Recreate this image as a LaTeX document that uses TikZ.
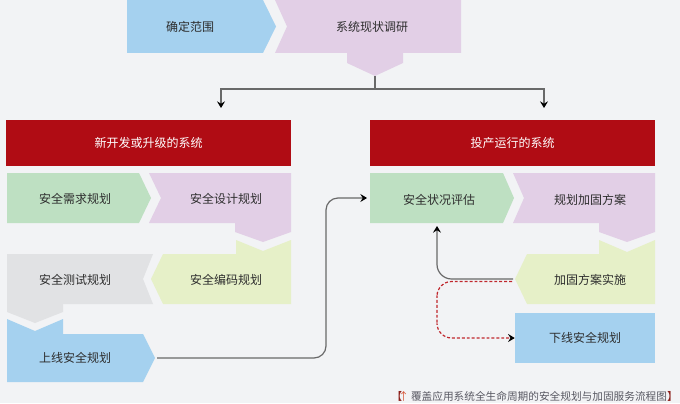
\documentclass[tikz,border=0pt]{standalone}
\usepackage{fontspec}
\setmainfont{Noto Sans CJK SC}
\definecolor{bgtone}{RGB}{242,243,245}
\definecolor{skyblue}{RGB}{165,209,239}
\definecolor{softlilac}{RGB}{226,207,230}
\definecolor{softgreen}{RGB}{190,224,194}
\definecolor{paleolive}{RGB}{230,240,200}
\definecolor{softgrey}{RGB}{225,226,228}
\definecolor{headred}{RGB}{176,12,20}
\definecolor{linegrey}{RGB}{105,105,105}
\definecolor{dotred}{RGB}{192,39,45}
\definecolor{textdark}{RGB}{45,45,45}
\definecolor{capgrey}{RGB}{88,88,98}
\definecolor{bracketred}{RGB}{140,30,25}
\definecolor{uparrow}{RGB}{215,85,55}
\usetikzlibrary{arrows.meta,positioning,calc}

\tikzset{
  lbl/.style={font=\fontsize{9}{11}\selectfont, text=textdark, inner sep=0pt},
  hdr/.style={fill=headred, text=white, font=\fontsize{9}{11}\selectfont,
              minimum width=213.75pt, minimum height=34.5pt, inner sep=0pt},
  tipend/.style={-{Stealth[color=black, length=5pt, width=6pt, inset=1.8pt]}},
  flow/.style={draw=linegrey, line width=0.9pt, tipend},
  dotflow/.style={draw=dotred, line width=0.9pt, dash pattern=on 2.2pt off 1.5pt, tipend}
}

\begin{document}
\begin{tikzpicture}[x=0.75pt, y=-0.75pt]
  \useasboundingbox (0,0) rectangle (680,403);
  \fill[bgtone] (0,0) rectangle (680,403);

  % top row
  \fill[skyblue] (127,0) -- (263,0) -- (276,26.5) -- (263,53) -- (127,53) -- cycle;
  \fill[softlilac] (275,0) -- (461,0) -- (461,53) -- (403,53) -- (403,63) -- (375,76)
        -- (347,63) -- (347,53) -- (275,53) -- (287,26.5) -- cycle;
  \node[lbl] (scope) at (190,26.5) {确定范围};
  \node[lbl] (survey) at (372,26.5) {系统现状调研};
  \coordinate (surveytip) at (375,76);
  \coordinate (split) at (375,89);
  \coordinate (newin) at (221,108);
  \coordinate (oldin) at (544,108);

  % headers
  \node[hdr] (newsys) at (148.5,143) {新开发或升级的系统};
  \node[hdr] (runsys) at (512.5,143) {投产运行的系统};

  % left column
  \fill[softgreen] (7,173) -- (139,173) -- (151,198) -- (139,223) -- (7,223) -- cycle;
  \fill[softlilac] (149,173) -- (291,173) -- (291,232) -- (263,242) -- (235,232)
        -- (235,223) -- (149,223) -- (161,198) -- cycle;
  \fill[paleolive] (163,254) -- (236,254) -- (236,240) -- (263,251) -- (291,240)
        -- (291,304) -- (163,304) -- (151,279) -- cycle;
  \fill[softgrey] (7,254) -- (153,254) -- (143,279) -- (153,304) -- (63,304)
        -- (63,312) -- (35,323) -- (7,312) -- cycle;
  \fill[skyblue] (7,319) -- (35,331) -- (63,319) -- (63,334) -- (143,334)
        -- (155,358) -- (143,382) -- (7,382) -- cycle;
  \node[lbl] (needs) at (75,199) {安全需求规划};
  \node[lbl] (design) at (226,199) {安全设计规划};
  \node[lbl] (coding) at (226,280) {安全编码规划};
  \node[lbl] (testing) at (75,280) {安全测试规划};
  \node[lbl] (golive) at (75,358) {上线安全规划};
  \coordinate (golivetip) at (157,358);
  \coordinate (bendup) at (326,280);

  % right column
  \fill[softgreen] (370,173) -- (503,173) -- (514,198) -- (503,223) -- (370,223) -- cycle;
  \fill[softlilac] (513,173) -- (655,173) -- (655,232) -- (627,242) -- (599,232)
        -- (599,223) -- (513,223) -- (524,198) -- cycle;
  \fill[paleolive] (527,254) -- (599,254) -- (599,240) -- (627,252) -- (655,240)
        -- (655,304) -- (527,304) -- (515,279) -- cycle;
  \node[fill=skyblue, minimum width=105pt, minimum height=37.5pt, inner sep=0pt,
        font=\fontsize{9}{11}\selectfont, text=textdark] (retire) at (585,338) {下线安全规划};
  \node[lbl] (assess) at (439,200) {安全状况评估};
  \node[lbl] (harden) at (590,200) {规划加固方案};
  \node[lbl] (apply) at (590,280) {加固方案实施};
  \coordinate (assessin) at (367,198);
  \coordinate (assessbot) at (437,226);
  \coordinate (applytip) at (513,279);
  \coordinate (applydot) at (512,281.5);
  \coordinate (benddown) at (437,310);

  % connectors
  \draw[draw=linegrey, line width=0.9pt] (surveytip) -- (split);
  \draw[flow] (split) -| (newin);
  \draw[flow] (split) -| (oldin);
  \draw[flow, rounded corners=9pt] (golivetip) -| (bendup) |- (assessin);
  \draw[flow, rounded corners=11pt] (applytip) -| (assessbot);
  \draw[dotflow, rounded corners=11pt] (applydot) -| (benddown) |- (retire.west);

  % caption
  \node[anchor=east, inner sep=0pt, font=\fontsize{8}{10}\selectfont, text=capgrey] (caption) at (678,396)
    {{\color{bracketred}【}\hspace{-3pt}{\color{uparrow}↑}\hspace{1.5pt}覆盖应用系统全生命周期的安全规划与加固服务流程图{\color{bracketred}】}};
\end{tikzpicture}
\end{document}
